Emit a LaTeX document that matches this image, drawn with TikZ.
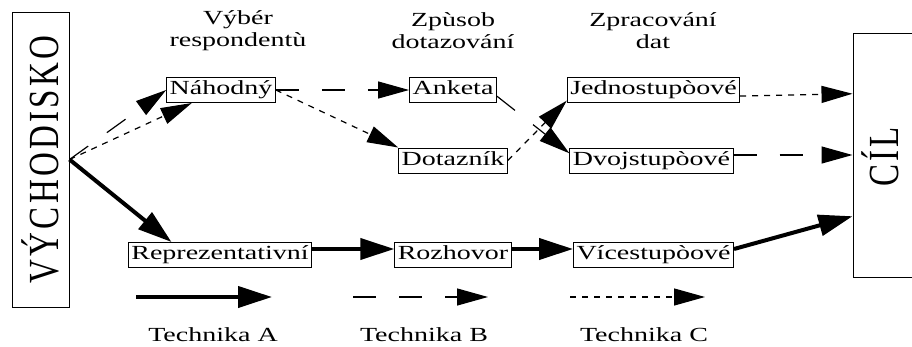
\documentclass[tikz,border=0pt]{standalone}
\usepackage{fontspec}
\setmainfont{Liberation Serif}[FakeStretch=1.4]
\newfontfamily\titlefont{Liberation Serif}[LetterSpace=10]
\usetikzlibrary{arrows.meta,calc}

\begin{document}
\begin{tikzpicture}[x=1pt,y=-1pt,
        every node/.style={font=\fontsize{20}{22}\selectfont},
        box/.style={draw,line width=1pt,inner xsep=3pt,inner ysep=2pt,text height=15pt,text depth=6pt},
        bigtext/.style={font=\titlefont\fontsize{33}{33}\selectfont},
        techA/.style={line width=4pt,-{Triangle[length=34pt,width=21pt]}},
        techB/.style={line width=1.2pt,dash pattern=on 23pt off 23pt,-{Triangle[length=31pt,width=17pt]}},
        techC/.style={line width=1.2pt,dash pattern=on 6pt off 6pt,-{Triangle[length=31pt,width=17pt]}}]
        \useasboundingbox (0,0) rectangle (912,346);
        \clip (0,0) rectangle (912,346);
        \node[draw,line width=1pt,minimum width=57pt,minimum height=295pt,inner sep=0pt,bigtext] (vych) at (40.5,159.5) {\rotatebox{90}{\scalebox{1}[1.3]{VÝCHODISKO}}};
        \node[draw,line width=1pt,minimum width=80pt,minimum height=244pt] (cil) at (893,155) {};
        \node[bigtext] (cilText) at (880,157) {\rotatebox{90}{\scalebox{1}[1.3]{C\kern3ptÍ\kern3ptL}}};
        \coordinate (cilA) at ($(cil.north west)!.25!(cil.south west)$);
        \coordinate (cilB) at ($(cil.north west)!.5!(cil.south west)$);
        \coordinate (cilC) at ($(cil.north west)!.75!(cil.south west)$);
        \node[align=center] (hResp) at (238,31) {Výbér\\respondentù};
        \node[align=center] (hDot) at (453,31) {Zpùsob\\dotazování};
        \node[align=center] (hDat) at (653,31) {Zpracování\\dat};
        \node[box] (nah) at (221,90) {Náhodný};
        \node[box] (ank) at (453,90) {Anketa};
        \node[box] (dot) at (453,160.5) {Dotazník};
        \node[box] (jed) at (653.5,90) {Jednostupòové};
        \node[box] (dvo) at (651.5,160.5) {Dvojstupòové};
        \node[box] (rep) at (220,255) {Reprezentativní};
        \node[box] (roz) at (453,255) {Rozhovor};
        \node[box] (vic) at (653.5,255) {Vícestupòové};
        \draw[techB] (vych.east) -- (nah.west);
        \draw[techC] (vych.east) -- (nah.204);
        \draw[techA] (vych.east) -- (rep.165);
        \draw[techB] (nah.east) -- (ank.west);
        \draw[techC] (nah.east) -- (dot.north west);
        \draw[techB] (ank.-8) -- (dvo.175);
        \draw[techC] (dot.east) -- (jed.187);
        \draw[techC] (jed.-4) -- (cilA);
        \draw[techB] (dvo.east |- cilB) -- (cilB);
        \draw[techA] ([yshift=6pt]rep.east) -- ([yshift=6pt]roz.west);
        \draw[techA] ([yshift=6pt]roz.east) -- ([yshift=6pt]vic.west);
        \draw[techA] ([yshift=6pt]vic.east) -- (cilC);
        \coordinate (aS) at (136,297);
        \coordinate (aE) at (272,297);
        \coordinate (bS) at (353,297);
        \coordinate (bE) at (488,297);
        \coordinate (cS) at (570,297);
        \coordinate (cE) at (705,297);
        \draw[techA] (aS) -- (aE);
        \draw[techB] (bS) -- (bE);
        \draw[techC] (cS) -- (cE);
        \node[anchor=base] (lA) at (213,341) {Technika A};
        \node[anchor=base] (lB) at (424,341) {Technika B};
        \node[anchor=base] (lC) at (644,341) {Technika C};
\end{tikzpicture}
\end{document}
